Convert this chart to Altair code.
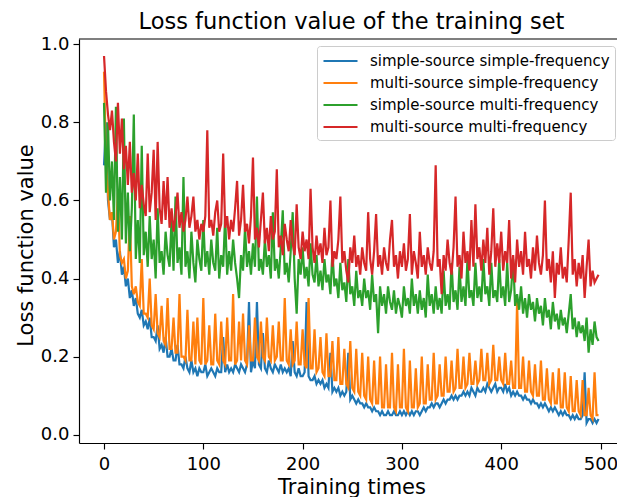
import altair as alt
import pandas as pd

FONT = "DejaVu Sans"

series_names = [
    "simple-source simple-frequency",
    "multi-source simple-frequency",
    "simple-source multi-frequency",
    "multi-source multi-frequency",
]
series_colors = ["#1f77b4", "#ff7f0e", "#2ca02c", "#d62728"]

# training step sampled every 2 iterations
steps = list(range(0, 500, 2))

ss_sf = [
    0.69, 0.80, 0.60, 0.55, 0.57, 0.48, 0.50, 0.44, 0.47, 0.41,
    0.43, 0.38, 0.40, 0.35, 0.37, 0.33, 0.35, 0.31, 0.30, 0.32,
    0.28, 0.29, 0.27, 0.30, 0.25, 0.25, 0.24, 0.28, 0.22, 0.23,
    0.21, 0.25, 0.20, 0.20, 0.22, 0.19, 0.19, 0.23, 0.18, 0.18,
    0.17, 0.20, 0.17, 0.16, 0.19, 0.16, 0.17, 0.15, 0.17, 0.16,
    0.16, 0.18, 0.15, 0.16, 0.17, 0.16, 0.15, 0.17, 0.16, 0.16,
    0.25, 0.16, 0.18, 0.16, 0.17, 0.16, 0.18, 0.17, 0.16, 0.18,
    0.17, 0.16, 0.18, 0.34, 0.16, 0.19, 0.17, 0.34, 0.18, 0.17,
    0.26, 0.17, 0.16, 0.19, 0.17, 0.16, 0.18, 0.17, 0.16, 0.18,
    0.16, 0.17, 0.16, 0.17, 0.15, 0.24, 0.16, 0.15, 0.17, 0.15,
    0.15, 0.16, 0.34, 0.15, 0.14, 0.14, 0.15, 0.13, 0.14, 0.13,
    0.14, 0.12, 0.13, 0.12, 0.21, 0.11, 0.12, 0.11, 0.12, 0.10,
    0.11, 0.10, 0.11, 0.21, 0.09, 0.10, 0.09, 0.08, 0.09, 0.08,
    0.08, 0.07, 0.08, 0.07, 0.07, 0.06, 0.07, 0.06, 0.06, 0.05,
    0.06, 0.05, 0.05, 0.06, 0.05, 0.05, 0.06, 0.05, 0.05, 0.06,
    0.05, 0.06, 0.05, 0.06, 0.05, 0.06, 0.05, 0.06, 0.06, 0.05,
    0.06, 0.07, 0.06, 0.07, 0.07, 0.08, 0.07, 0.08, 0.08, 0.07,
    0.08, 0.09, 0.08, 0.09, 0.09, 0.10, 0.09, 0.10, 0.09, 0.10,
    0.10, 0.11, 0.10, 0.11, 0.10, 0.12, 0.11, 0.10, 0.12, 0.11,
    0.11, 0.12, 0.11, 0.13, 0.12, 0.11, 0.12, 0.13, 0.11, 0.12,
    0.12, 0.11, 0.13, 0.11, 0.12, 0.10, 0.11, 0.10, 0.11, 0.10,
    0.10, 0.09, 0.10, 0.09, 0.09, 0.08, 0.09, 0.08, 0.08, 0.07,
    0.08, 0.07, 0.08, 0.07, 0.06, 0.07, 0.06, 0.07, 0.06, 0.05,
    0.06, 0.05, 0.06, 0.05, 0.05, 0.04, 0.05, 0.04, 0.05, 0.04,
    0.04, 0.05, 0.16, 0.03, 0.04, 0.04, 0.03, 0.04, 0.03, 0.04,
]

ms_sf = [
    0.93, 0.70, 0.62, 0.55, 0.57, 0.50, 0.52, 0.62, 0.46, 0.44,
    0.45, 0.40, 0.42, 0.56, 0.38, 0.36, 0.38, 0.34, 0.33, 0.45,
    0.31, 0.31, 0.30, 0.40, 0.28, 0.27, 0.36, 0.26, 0.25, 0.33,
    0.24, 0.23, 0.35, 0.22, 0.22, 0.30, 0.21, 0.21, 0.36, 0.20,
    0.20, 0.19, 0.32, 0.19, 0.19, 0.29, 0.18, 0.30, 0.19, 0.18,
    0.35, 0.18, 0.19, 0.28, 0.18, 0.18, 0.31, 0.19, 0.18, 0.29,
    0.19, 0.18, 0.30, 0.19, 0.19, 0.36, 0.18, 0.19, 0.29, 0.19,
    0.31, 0.19, 0.18, 0.28, 0.19, 0.19, 0.30, 0.20, 0.19, 0.29,
    0.20, 0.19, 0.30, 0.20, 0.19, 0.28, 0.19, 0.20, 0.29, 0.19,
    0.19, 0.35, 0.19, 0.18, 0.27, 0.18, 0.19, 0.29, 0.18, 0.18,
    0.27, 0.18, 0.17, 0.35, 0.17, 0.17, 0.27, 0.16, 0.17, 0.25,
    0.16, 0.15, 0.26, 0.15, 0.15, 0.24, 0.14, 0.14, 0.25, 0.13,
    0.13, 0.22, 0.13, 0.12, 0.24, 0.12, 0.11, 0.22, 0.11, 0.10,
    0.21, 0.10, 0.09, 0.20, 0.09, 0.08, 0.19, 0.08, 0.08, 0.20,
    0.07, 0.07, 0.18, 0.07, 0.07, 0.21, 0.07, 0.06, 0.18, 0.07,
    0.07, 0.22, 0.07, 0.06, 0.19, 0.07, 0.07, 0.17, 0.07, 0.08,
    0.20, 0.08, 0.08, 0.18, 0.09, 0.09, 0.21, 0.09, 0.10, 0.18,
    0.10, 0.10, 0.20, 0.11, 0.11, 0.19, 0.11, 0.12, 0.22, 0.12,
    0.12, 0.20, 0.12, 0.13, 0.21, 0.13, 0.13, 0.19, 0.13, 0.14,
    0.22, 0.14, 0.14, 0.21, 0.13, 0.14, 0.23, 0.14, 0.14, 0.20,
    0.14, 0.13, 0.21, 0.13, 0.13, 0.19, 0.12, 0.12, 0.34, 0.12,
    0.12, 0.20, 0.11, 0.11, 0.19, 0.11, 0.10, 0.18, 0.10, 0.10,
    0.19, 0.09, 0.09, 0.17, 0.09, 0.08, 0.16, 0.08, 0.08, 0.17,
    0.07, 0.07, 0.16, 0.07, 0.06, 0.15, 0.06, 0.06, 0.14, 0.06,
    0.05, 0.14, 0.05, 0.05, 0.12, 0.05, 0.04, 0.16, 0.05, 0.05,
]

ss_mf = [
    0.85, 0.62, 0.80, 0.60, 0.70, 0.55, 0.84, 0.52, 0.66, 0.50,
    0.81, 0.49, 0.62, 0.47, 0.58, 0.82, 0.45, 0.55, 0.44, 0.74,
    0.46, 0.52, 0.43, 0.56, 0.45, 0.50, 0.40, 0.58, 0.44, 0.47,
    0.41, 0.52, 0.46, 0.43, 0.55, 0.42, 0.61, 0.44, 0.48, 0.41,
    0.66, 0.43, 0.47, 0.40, 0.52, 0.44, 0.39, 0.50, 0.45, 0.42,
    0.55, 0.43, 0.47, 0.41, 0.50, 0.44, 0.42, 0.53, 0.40, 0.46,
    0.43, 0.56, 0.41, 0.47, 0.42, 0.50, 0.44, 0.40, 0.35, 0.46,
    0.42, 0.53, 0.43, 0.47, 0.41, 0.49, 0.43, 0.61, 0.42, 0.45,
    0.41, 0.50, 0.43, 0.46, 0.40, 0.57, 0.42, 0.45, 0.40, 0.48,
    0.575, 0.41, 0.44, 0.39, 0.47, 0.57, 0.40, 0.31, 0.45, 0.41,
    0.48, 0.40, 0.43, 0.38, 0.49, 0.41, 0.39, 0.46, 0.38, 0.42,
    0.37, 0.45, 0.39, 0.41, 0.36, 0.47, 0.38, 0.40, 0.35, 0.44,
    0.37, 0.39, 0.34, 0.45, 0.36, 0.38, 0.33, 0.42, 0.35, 0.37,
    0.33, 0.40, 0.35, 0.37, 0.32, 0.41, 0.34, 0.36, 0.26, 0.38,
    0.33, 0.36, 0.31, 0.38, 0.34, 0.32, 0.37, 0.31, 0.35, 0.33,
    0.30, 0.38, 0.33, 0.35, 0.31, 0.40, 0.33, 0.36, 0.31, 0.37,
    0.32, 0.35, 0.30, 0.41, 0.33, 0.36, 0.31, 0.38, 0.32, 0.35,
    0.31, 0.42, 0.33, 0.36, 0.32, 0.44, 0.34, 0.37, 0.32, 0.43,
    0.34, 0.38, 0.33, 0.45, 0.35, 0.37, 0.33, 0.44, 0.35, 0.38,
    0.34, 0.45, 0.36, 0.38, 0.33, 0.44, 0.35, 0.37, 0.34, 0.45,
    0.35, 0.38, 0.33, 0.44, 0.34, 0.37, 0.45, 0.33, 0.36, 0.32,
    0.38, 0.31, 0.35, 0.30, 0.36, 0.32, 0.34, 0.29, 0.35, 0.31,
    0.33, 0.28, 0.35, 0.30, 0.32, 0.27, 0.34, 0.29, 0.31, 0.27,
    0.32, 0.28, 0.30, 0.26, 0.31, 0.36, 0.27, 0.30, 0.25, 0.29,
    0.26, 0.28, 0.24, 0.30, 0.21, 0.27, 0.23, 0.29, 0.25, 0.24,
]

ms_mf = [
    0.97, 0.88, 0.82, 0.78, 0.83, 0.75, 0.70, 0.85, 0.72, 0.81,
    0.68, 0.74, 0.64, 0.75, 0.62, 0.67, 0.60, 0.72, 0.58, 0.64,
    0.59, 0.56, 0.72, 0.57, 0.62, 0.73, 0.55, 0.75, 0.58, 0.54,
    0.65, 0.55, 0.66, 0.53, 0.58, 0.52, 0.56, 0.62, 0.53, 0.57,
    0.52, 0.55, 0.61, 0.53, 0.56, 0.61, 0.52, 0.55, 0.50, 0.54,
    0.52, 0.56, 0.78, 0.53, 0.55, 0.51, 0.57, 0.60, 0.52, 0.54,
    0.72, 0.53, 0.56, 0.50, 0.55, 0.52, 0.58, 0.65, 0.51, 0.55,
    0.64, 0.52, 0.54, 0.49, 0.56, 0.71, 0.50, 0.53, 0.48, 0.55,
    0.62, 0.49, 0.53, 0.47, 0.56, 0.50, 0.52, 0.68, 0.48, 0.51,
    0.46, 0.54, 0.50, 0.47, 0.55, 0.49, 0.46, 0.59, 0.48, 0.45,
    0.52, 0.47, 0.50, 0.45, 0.63, 0.48, 0.44, 0.51, 0.46, 0.49,
    0.44, 0.53, 0.46, 0.48, 0.60, 0.43, 0.47, 0.45, 0.50, 0.61,
    0.44, 0.47, 0.42, 0.39, 0.48, 0.44, 0.51, 0.43, 0.46, 0.41,
    0.48, 0.44, 0.42, 0.57, 0.45, 0.41, 0.47, 0.565, 0.43, 0.46,
    0.41, 0.48, 0.44, 0.42, 0.50, 0.55, 0.43, 0.46, 0.40, 0.47,
    0.43, 0.49, 0.42, 0.45, 0.565, 0.41, 0.47, 0.44, 0.40, 0.52,
    0.43, 0.46, 0.41, 0.48, 0.44, 0.42, 0.47, 0.69, 0.43, 0.45,
    0.36, 0.46, 0.42, 0.50, 0.44, 0.41, 0.48, 0.61, 0.43, 0.46,
    0.40, 0.52, 0.44, 0.47, 0.42, 0.55, 0.43, 0.59, 0.45, 0.48,
    0.42, 0.50, 0.44, 0.53, 0.41, 0.47, 0.58, 0.43, 0.49, 0.44,
    0.52, 0.42, 0.47, 0.44, 0.55, 0.40, 0.46, 0.39, 0.50, 0.43,
    0.47, 0.41, 0.52, 0.43, 0.45, 0.40, 0.48, 0.42, 0.51, 0.44,
    0.41, 0.46, 0.60, 0.42, 0.45, 0.39, 0.47, 0.35, 0.44, 0.41,
    0.48, 0.40, 0.43, 0.39, 0.50, 0.62, 0.41, 0.45, 0.38, 0.44,
    0.40, 0.46, 0.35, 0.43, 0.50, 0.38, 0.42, 0.39, 0.40, 0.41,
]

all_values = [ss_sf, ms_sf, ss_mf, ms_mf]

frames = []
for name, vals in zip(series_names, all_values):
    frames.append(pd.DataFrame({"step": steps, "loss": vals, "series": name}))
df = pd.concat(frames, ignore_index=True)

W, H = 538, 404

x_enc = alt.X(
    "step:Q",
    scale=alt.Scale(domain=[-25.2, 516.6], nice=False, zero=False),
    axis=alt.Axis(
        values=[0, 100, 200, 300, 400, 500],
        title="Training times",
        titleX=272.5,
        titleY=50,
        titleBaseline="alphabetic",
        titleAlign="center",
        labelBaseline="alphabetic",
        labelPadding=20,
    ),
)
y_enc = alt.Y(
    "loss:Q",
    scale=alt.Scale(domain=[-0.0213, 1.0136], nice=False, zero=False),
    axis=alt.Axis(
        values=[0.0, 0.2, 0.4, 0.6, 0.8, 1.0],
        format=".1f",
        title="Loss function value",
        titleAngle=270,
        titleX=-47,
        titleY=206,
        titleBaseline="alphabetic",
        titleAlign="center",
        labelPadding=4,
    ),
)
color_enc = alt.Color(
    "series:N",
    scale=alt.Scale(domain=series_names, range=series_colors),
    sort=series_names,
    legend=alt.Legend(
        title=None,
        orient="none",
        legendX=238,
        legendY=7,
        symbolType="M-1,0H3",
        symbolSize=289,
        symbolStrokeWidth=2.2,
        symbolFillColor="transparent",
        labelFontSize=15,
        labelFont=FONT,
        labelColor="black",
        labelLimit=0,
        labelOffset=28,
        padding=5,
        rowPadding=4,
        strokeColor="#cccccc",
        fillColor="rgba(255,255,255,0.8)",
        cornerRadius=3,
    ),
)

layers = []
for name in series_names:
    layers.append(
        alt.Chart(df)
        .transform_filter(alt.datum.series == name)
        .mark_line(strokeWidth=2.2, clip=True)
        .encode(x=x_enc, y=y_enc, color=color_enc, order="step:Q")
    )

top_border = (
    alt.Chart(pd.DataFrame({"a": [0]}))
    .mark_rule(color="black", strokeWidth=1.15)
    .encode(x=alt.value(0), x2=alt.value(W), y=alt.value(0))
)

chart = (
    alt.layer(*layers, top_border)
    .properties(
        width=W,
        height=H,
        background="white",
        autosize=alt.AutoSizeParams(type="none"),
        padding={"left": 79, "top": 39, "right": 0, "bottom": 54},
        title=alt.TitleParams(
            "Loss function value of the training set",
            font=FONT,
            fontSize=22.5,
            fontWeight="normal",
            color="black",
            anchor="middle",
            baseline="alphabetic",
            offset=9,
            dx=3.5,
            dy=25,
        ),
    )
    .configure_view(stroke=None)
    .configure_axis(
        grid=False,
        domainColor="black",
        domainWidth=1.15,
        tickColor="black",
        tickWidth=1.15,
        tickSize=6,
        labelFont=FONT,
        labelFontSize=18,
        labelColor="black",
        titleFont=FONT,
        titleFontSize=21,
        titleFontWeight="normal",
        titleColor="black",
    )
)

chart.save("out.html", embed_options={"renderer": "svg", "actions": False})
